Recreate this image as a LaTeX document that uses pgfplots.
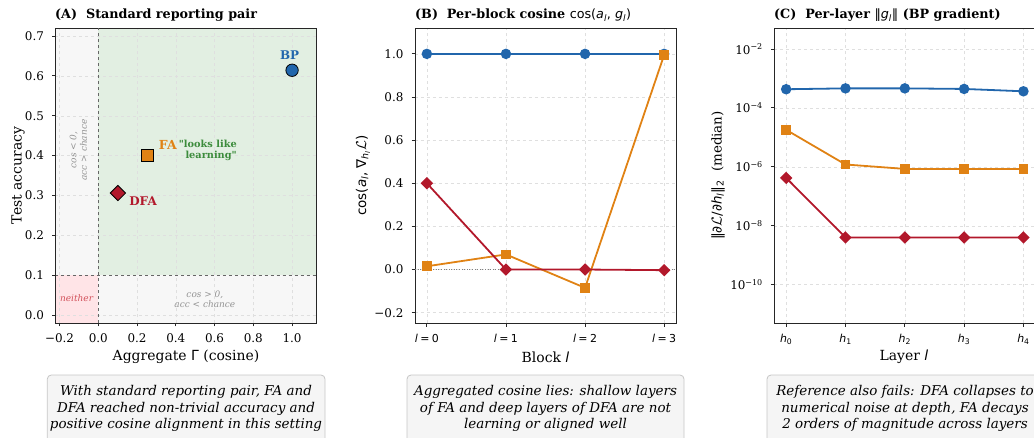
\documentclass[border=0pt]{standalone}
\usepackage{pgfplots}
\pgfplotsset{compat=1.18}
\usepackage{fontspec}
\setmainfont{DejaVu Serif}
\newfontfamily\dvs{DejaVu Sans}
\newfontfamily\rawserif{DejaVu Serif}
\usetikzlibrary{calc}

\definecolor{bpblue}{RGB}{33,102,172}
\definecolor{faorange}{RGB}{224,130,20}
\definecolor{dfared}{RGB}{178,24,43}
\definecolor{lgreen}{RGB}{60,140,60}
\definecolor{fillgreen}{RGB}{226,239,226}
\definecolor{fillgray}{RGB}{247,247,247}
\definecolor{fillpink}{RGB}{255,228,231}
\definecolor{nred}{RGB}{210,80,90}

\newcommand{\lt}[1]{{\dvs\fontsize{11}{12}\selectfont\textit{l}\hspace{0.22em}=\hspace{0.22em}#1}}
\newcommand{\hl}[1]{{\dvs\fontsize{11}{12}\selectfont\textit{h}\textsubscript{#1}}}

\pgfplotsset{
  panel/.style={
    scale only axis, width=261bp, height=295bp, anchor=north west,
    set layers,
    axis line style={black!85, line width=0.8bp},
    tick align=outside, tick pos=left,
    major tick length=3.5bp,
    every tick/.style={black!85, line width=0.8bp},
    grid=major, grid style={dashed, gray!25, line width=0.4bp},
    tick label style={font=\fontsize{12}{13}\selectfont},
    xticklabel style={yshift=-4bp},
    yticklabel style={xshift=-4.5bp},
    /pgf/number format/assume math mode=true,
  },
  line/.style={line width=1.8bp, mark size=4.3bp},
}

\begin{document}
\begin{tikzpicture}
% ---------- (A) ----------
\begin{axis}[panel, at={(55.5bp,-28bp)},
  xmin=-0.221, xmax=1.126, ymin=-0.02, ymax=0.72,
  xtick={-0.2,0,0.2,0.4,0.6,0.8,1.0},
  xticklabels={−0.2,0.0,0.2,0.4,0.6,0.8,1.0},
  ytick={0,0.1,0.2,0.3,0.4,0.5,0.6,0.7},
  yticklabels={0.0,0.1,0.2,0.3,0.4,0.5,0.6,0.7}]
\begin{pgfonlayer}{axis background}
\fill[fillgray] (axis cs:-0.221,0.1) rectangle (axis cs:0,0.72);
\fill[fillgreen] (axis cs:0,0.1) rectangle (axis cs:1.126,0.72);
\fill[fillpink] (axis cs:-0.221,-0.02) rectangle (axis cs:0,0.1);
\fill[fillgray] (axis cs:0,-0.02) rectangle (axis cs:1.126,0.1);
\end{pgfonlayer}
\draw[gray!80!black, dashed, line width=0.6bp] (axis cs:0,-0.02) -- (axis cs:0,0.72);
\draw[gray!80!black, dashed, line width=0.6bp] (axis cs:-0.221,0.1) -- (axis cs:1.126,0.1);
\addplot[only marks, mark=*, mark size=6.2bp,
  mark options={fill=bpblue, draw=black, line width=0.8bp}] coordinates {(1.0,0.614)};
\addplot[only marks, mark=square*, mark size=5.9bp,
  mark options={fill=faorange, draw=black, line width=0.8bp}] coordinates {(0.254,0.400)};
\addplot[only marks, mark=square*, mark size=5.4bp,
  mark options={fill=dfared, draw=black, line width=0.8bp, rotate=45}] coordinates {(0.101,0.306)};
\node[text=bpblue, font=\fontsize{12}{13}\selectfont\bfseries] at (axis cs:0.987,0.652) {BP};
\node[text=faorange, font=\fontsize{12.5}{13}\selectfont\bfseries, anchor=west, inner sep=0pt] at (axis cs:0.312,0.426) {FA};
\node[text=lgreen, font=\rawserif\fontsize{9.8}{11}\selectfont\bfseries, align=right] at (axis cs:0.565,0.414) {"looks like\\learning"};
\node[text=dfared, font=\fontsize{12}{13}\selectfont\bfseries] at (axis cs:0.231,0.286) {DFA};
\node[text=gray!85, font=\fontsize{9}{10.5}\selectfont\itshape, align=center, rotate=90] at (axis cs:-0.103,0.414) {cos < 0,\\acc > chance};
\node[text=gray!85, font=\fontsize{9}{10.5}\selectfont\itshape, align=center] at (axis cs:0.55,0.04) {cos > 0,\\acc < chance};
\node[text=nred, font=\fontsize{9}{10.5}\selectfont\itshape] at (axis cs:-0.112,0.043) {neither};
\end{axis}

% ---------- (B) ----------
\begin{axis}[panel, at={(415bp,-28bp)},
  xmin=-0.15, xmax=3.15, ymin=-0.248, ymax=1.12,
  xtick={0,1,2,3},
  xticklabels={\lt{0},\lt{1},\lt{2},\lt{3}},
  ytick={-0.2,0,0.2,0.4,0.6,0.8,1.0},
  yticklabels={−0.2,0.0,0.2,0.4,0.6,0.8,1.0}]
\draw[gray, dotted, line width=0.6bp] (axis cs:-0.15,0) -- (axis cs:3.15,0);
\addplot[line, bpblue, mark=*] coordinates {(0,1.0) (1,1.0) (2,1.0) (3,1.0)};
\addplot[line, faorange, mark=square*, mark size=4bp] coordinates {(0,0.015) (1,0.07) (2,-0.085) (3,0.995)};
\addplot[line, dfared, mark=square*, mark size=3.5bp, mark options={rotate=45}] coordinates {(0,0.40) (1,0.0) (2,0.0) (3,-0.003)};
\end{axis}

% ---------- (C) ----------
\begin{axis}[panel, at={(774.3bp,-28bp)},
  xmin=-0.2, xmax=4.2, ymode=log, ymin=5e-12, ymax=5.15e-2,
  xtick={0,1,2,3,4},
  xticklabels={\hl{0},\hl{1},\hl{2},\hl{3},\hl{4}},
  ytick={1e-10,1e-8,1e-6,1e-4,1e-2},
  yticklabels={10\textsuperscript{−10},10\textsuperscript{−8},10\textsuperscript{−6},10\textsuperscript{−4},10\textsuperscript{−2}},
  minor ytick={}]
\addplot[line, bpblue, mark=*] coordinates {(0,4.3e-4) (1,4.6e-4) (2,4.6e-4) (3,4.4e-4) (4,3.66e-4)};
\addplot[line, faorange, mark=square*, mark size=4bp] coordinates {(0,1.8e-5) (1,1.2e-6) (2,8.5e-7) (3,8.5e-7) (4,8.5e-7)};
\addplot[line, dfared, mark=square*, mark size=3.5bp, mark options={rotate=45}] coordinates {(0,4.2e-7) (1,4e-9) (2,4e-9) (3,4e-9) (4,4e-9)};
\end{axis}

% ---------- titles ----------
\node[anchor=west, inner sep=0pt, font=\fontsize{12.8}{14}\selectfont\bfseries] at (55bp,-15bp) {(A)\hspace{0.7em}Standard reporting pair};
\node[anchor=west, inner sep=0pt, font=\fontsize{12.8}{14}\selectfont\bfseries] at (415bp,-15bp) {(B)\hspace{0.7em}Per-block cosine {\mdseries\dvs cos(\textit{a}\textsubscript{\textit{l}}, \textit{g}\textsubscript{\textit{l}})}};
\node[anchor=west, inner sep=0pt, font=\fontsize{12.8}{14}\selectfont\bfseries] at (774bp,-15bp) {(C)\hspace{0.7em}Per-layer {\mdseries\dvs ‖\textit{g}\textsubscript{\textit{l}}‖} (BP gradient)};

% ---------- axis labels ----------
\node[font=\fontsize{14}{16}\selectfont] at (186bp,-357bp) {Aggregate {\dvs Γ} (cosine)};
\node[font=\fontsize{14}{16}\selectfont] at (545.5bp,-357bp) {Block {\dvs\itshape l}};
\node[font=\fontsize{14}{16}\selectfont] at (904bp,-357bp) {Layer {\dvs\itshape l}};
\node[font=\fontsize{14}{16}\selectfont, rotate=90] at (18bp,-175.5bp) {Test accuracy};
\node[font=\fontsize{13.5}{16}\selectfont, rotate=90] at (363bp,-175.5bp) {\dvs cos(\textit{a}\textsubscript{\textit{l}}, ∇\textsubscript{\textit{h}\textsubscript{\textit{l}}}$\mathcal{L}$)};
\node[font=\fontsize{13.5}{16}\selectfont, rotate=90] at (718bp,-175.5bp) {{\dvs ‖\textit{∂}$\mathcal{L}$/\textit{∂h}\textsubscript{\textit{l}}‖\textsubscript{2}}\hspace{0.6em}(median)};

% ---------- caption boxes ----------
\foreach \xa/\xb in {47.3/325, 407/684, 767/1045} {
  \draw[rounded corners=4bp, draw=gray!45, fill=gray!8, line width=0.8bp] (\xa bp,-375bp) rectangle (\xb bp,-460bp);
}
\node[align=center, font=\fontsize{13.5}{16.7}\selectfont\itshape] at (186bp,-408.5bp) {With standard reporting pair, FA and\\DFA reached non-trivial accuracy and\\positive cosine alignment in this setting};
\node[align=center, font=\fontsize{13.5}{16.7}\selectfont\itshape] at (545.5bp,-408.5bp) {Aggregated cosine lies: shallow layers\\of FA and deep layers of DFA are not\\learning or aligned well};
\node[align=center, font=\fontsize{13.5}{16.7}\selectfont\itshape] at (905bp,-408.5bp) {Reference also fails: DFA collapses to\\numerical noise at depth, FA decays\\2 orders of magnitude across layers};

\pgfresetboundingbox
\path (0,0) rectangle (1034bp,-438bp);
\end{tikzpicture}
\end{document}
